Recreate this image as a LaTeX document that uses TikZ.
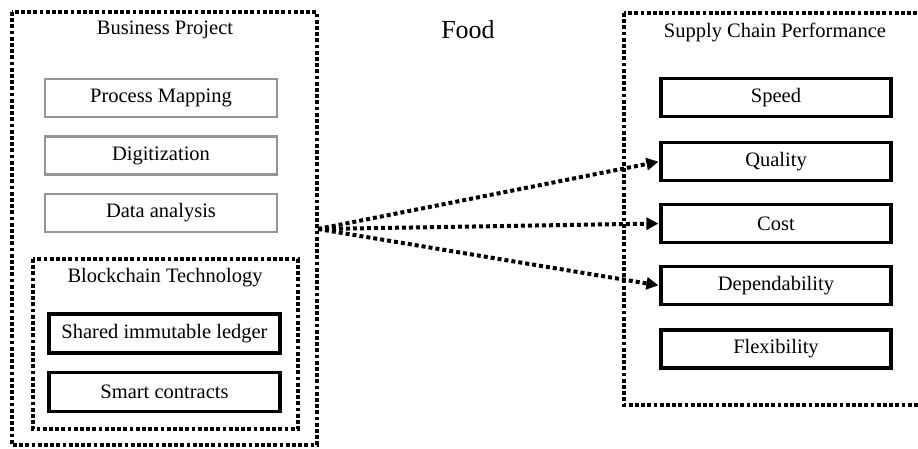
\documentclass[tikz,border=0pt]{standalone}
\usepackage{fontspec}
\setmainfont{Liberation Serif}
\usetikzlibrary{arrows.meta}
\tikzset{
  txt/.style={font=\fontsize{20.5}{24}\selectfont, inner sep=0pt},
  graybox/.style={draw=black!42, line width=2.8pt, minimum width=232pt, minimum height=38pt, font=\fontsize{20.5}{24}\selectfont, inner sep=0pt},
  blackbox/.style={draw=black, line width=3.2pt, minimum width=230pt, minimum height=38pt, font=\fontsize{20.5}{24}\selectfont, inner sep=0pt},
  groupframe/.style={draw=black, line width=3.8pt, dash pattern=on 3.8pt off 2.4pt},
  link/.style={draw=black, line width=4pt, dash pattern=on 4pt off 3pt, -{Triangle[length=12pt,width=12pt]}, shorten >=1pt}
}
\begin{document}
\begin{tikzpicture}[x=1pt, y=-1pt]
  \clip (0,0) rectangle (918,448);
  \fill[white] (0,0) rectangle (918,448);

  % group frames
  \draw[groupframe] (12,12) rectangle (317,445);
  \draw[groupframe] (33,259) rectangle (298,429);
  \draw[groupframe] (624,13) rectangle (980,405);

  % titles
  \node[txt] (bp) at (165,30) {Business Project};
  \node[font=\fontsize{26}{30}\selectfont, inner sep=0pt] (food) at (468,30) {Food};
  \node[txt] (scp) at (775,32) {Supply Chain Performance};
  \node[txt] (bt) at (165,278) {Blockchain Technology};

  % business project activities
  \node[graybox] (pm) at (161,98) {Process Mapping};
  \node[graybox] (dig) at (161,155.5) {Digitization};
  \node[graybox] (da) at (161,213) {Data analysis};

  % blockchain components
  \node[blackbox, minimum width=231pt, minimum height=39pt] (ledger) at (164.5,333.5) {Shared immutable ledger};
  \node[blackbox, minimum width=231pt, minimum height=39pt] (smart) at (164.5,392) {Smart contracts};

  % performance dimensions
  \node[blackbox] (speed) at (776,97.5) {Speed};
  \node[blackbox] (quality) at (776,161.5) {Quality};
  \node[blackbox] (cost) at (776,223.5) {Cost};
  \node[blackbox] (dep) at (776,285.5) {Dependability};
  \node[blackbox] (flex) at (776,349) {Flexibility};

  % links from the business project to performance
  \coordinate (src) at (318,229);
  \draw[link] (src) -- (quality.west);
  \draw[link] (src) -- (cost.west);
  \draw[link] (src) -- (dep.west);
\end{tikzpicture}
\end{document}
